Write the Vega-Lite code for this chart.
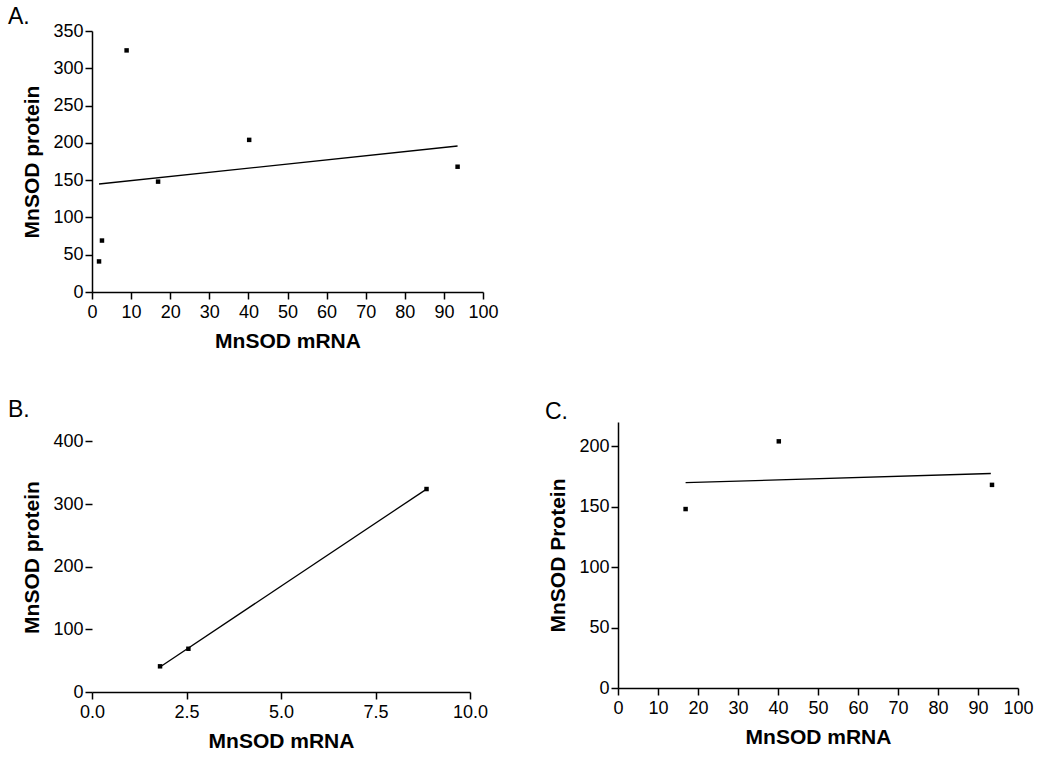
{
  "$schema": "https://vega.github.io/schema/vega-lite/v6.json",
  "background": "white",
  "padding": {"left": 8, "top": 6, "right": 10, "bottom": 5},
  "datasets": {
    "ptsA": [
      {"mrna": 1.8, "protein": 41},
      {"mrna": 2.55, "protein": 69},
      {"mrna": 8.85, "protein": 324},
      {"mrna": 16.9, "protein": 148},
      {"mrna": 40.2, "protein": 204},
      {"mrna": 93.5, "protein": 168}
    ],
    "fitA": [
      {"mrna": 1.8, "protein": 144.8},
      {"mrna": 93.5, "protein": 195.8}
    ],
    "ptsB": [
      {"mrna": 1.8, "protein": 41},
      {"mrna": 2.55, "protein": 69},
      {"mrna": 8.85, "protein": 324}
    ],
    "fitB": [
      {"mrna": 1.8, "protein": 40},
      {"mrna": 8.85, "protein": 323.9}
    ],
    "ptsC": [
      {"mrna": 16.9, "protein": 148},
      {"mrna": 40.2, "protein": 204},
      {"mrna": 93.5, "protein": 168}
    ],
    "fitC": [
      {"mrna": 16.9, "protein": 169.8},
      {"mrna": 93.2, "protein": 177.4}
    ]
  },
  "config": {
    "font": "Liberation Sans",
    "view": {"stroke": null},
    "axis": {
      "grid": false,
      "domainColor": "black",
      "domainWidth": 1.5,
      "tickColor": "black",
      "tickWidth": 1.5,
      "tickSize": 7,
      "labelFont": "Liberation Sans",
      "labelFontSize": 18,
      "labelColor": "black",
      "labelOverlap": false,
      "titleFont": "Liberation Sans",
      "titleFontSize": 21,
      "titleFontWeight": "bold",
      "titleColor": "black"
    },
    "axisX": {"labelPadding": 4, "titlePadding": 9, "labelFlush": false},
    "axisY": {"labelPadding": 2, "titlePadding": 10, "labelFlush": false},
    "title": {
      "font": "Liberation Sans",
      "fontSize": 23,
      "fontWeight": "normal",
      "color": "black",
      "anchor": "start",
      "frame": "group",
      "baseline": "alphabetic"
    }
  },
  "bounds": "flush",
  "spacing": 130,
  "vconcat": [
    {
      "title": {"text": "A.", "dx": -84, "offset": -7},
      "width": 391,
      "height": 261,
      "encoding": {
        "x": {"field": "mrna", "type": "quantitative", "scale": {"domain": [0, 100], "nice": false},
              "axis": {"title": "MnSOD mRNA", "values": [0,10,20,30,40,50,60,70,80,90,100]}},
        "y": {"field": "protein", "type": "quantitative", "scale": {"domain": [0, 350], "nice": false},
              "axis": {"title": "MnSOD protein", "values": [0,50,100,150,200,250,300,350]}}
      },
      "layer": [
        {
          "data": {"name": "fitA"},
          "mark": {"type": "line", "color": "black", "strokeWidth": 1.3}
        },
        {
          "data": {"name": "ptsA"},
          "mark": {"type": "point", "shape": "square", "filled": true, "color": "black", "size": 20, "opacity": 1}
        }
      ]
    },
    {
      "bounds": "flush",
      "spacing": 148,
      "hconcat": [
        {
          "title": {"text": "B.", "dx": -84, "offset": 0},
          "width": 378,
          "height": 270,
          "layer": [
            {
              "mark": {"type": "rule", "color": "black", "strokeWidth": 1.5},
              "encoding": {
                "x": {"datum": 0, "type": "quantitative"},
                "y": {"datum": 0, "type": "quantitative"},
                "y2": {"datum": 400}
              }
            },
            {
              "data": {"name": "fitB"},
              "mark": {"type": "line", "color": "black", "strokeWidth": 1.3},
              "encoding": {
                "x": {"field": "mrna", "type": "quantitative", "scale": {"domain": [0, 10], "nice": false},
                      "axis": {"title": "MnSOD mRNA", "values": [0, 2.5, 5, 7.5, 10], "format": ".1f"}},
                "y": {"field": "protein", "type": "quantitative", "scale": {"domain": [0, 431], "nice": false},
                      "axis": {"title": "MnSOD protein", "values": [0, 100, 200, 300, 400], "domain": false}}
              }
            },
            {
              "data": {"name": "ptsB"},
              "mark": {"type": "point", "shape": "square", "filled": true, "color": "black", "size": 20, "opacity": 1},
              "encoding": {
                "x": {"field": "mrna", "type": "quantitative"},
                "y": {"field": "protein", "type": "quantitative"}
              }
            }
          ]
        },
        {
          "title": {"text": "C.", "dx": -73, "offset": -2},
          "width": 400,
          "height": 266,
          "encoding": {
            "x": {"field": "mrna", "type": "quantitative", "scale": {"domain": [0, 100], "nice": false},
                  "axis": {"title": "MnSOD mRNA", "values": [0,10,20,30,40,50,60,70,80,90,100]}},
            "y": {"field": "protein", "type": "quantitative", "scale": {"domain": [0, 220], "nice": false},
                  "axis": {"title": "MnSOD Protein", "values": [0, 50, 100, 150, 200]}}
          },
          "layer": [
            {
              "data": {"name": "fitC"},
              "mark": {"type": "line", "color": "black", "strokeWidth": 1.3}
            },
            {
              "data": {"name": "ptsC"},
              "mark": {"type": "point", "shape": "square", "filled": true, "color": "black", "size": 20, "opacity": 1}
            }
          ]
        }
      ]
    }
  ]
}
